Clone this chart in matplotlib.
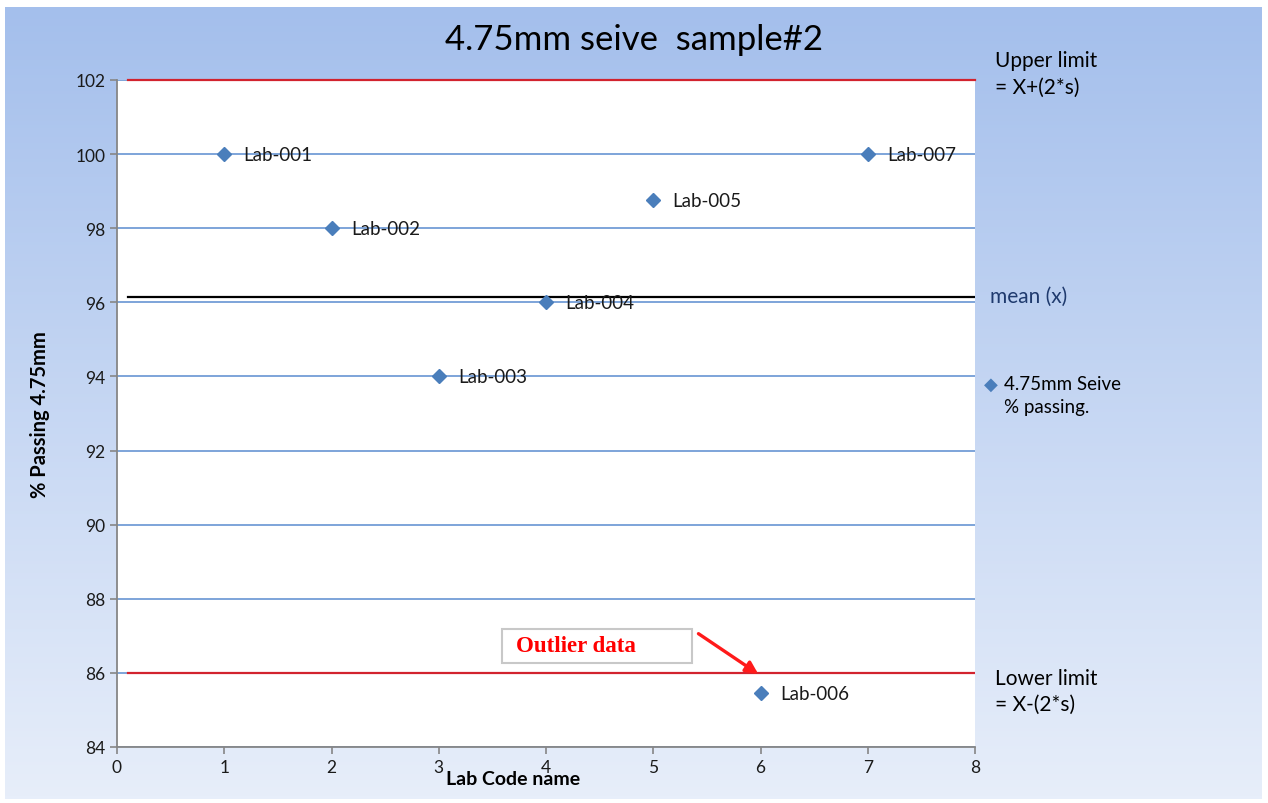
import numpy as np
import matplotlib.pyplot as plt
from matplotlib.patches import Rectangle

# lab results, 4.75mm sieve, sample #2
labs = ["Lab-001", "Lab-002", "Lab-003", "Lab-004", "Lab-005", "Lab-006", "Lab-007"]
lab_x = [1, 2, 3, 4, 5, 6, 7]
passing = [100, 98, 94, 96, 98.75, 85.45, 100]

mean_x = 96.15
upper_limit = 102
lower_limit = 86
limit_span = [0.1, 8]

plt.rcParams['font.family'] = ['Lato', 'DejaVu Sans']

fig = plt.figure(figsize=(12.68, 8.04), dpi=100, facecolor='white')

# gradient backdrop of the chart area
bg = fig.add_axes([5 / 1268, 4 / 804, 1257 / 1268, 792 / 804], zorder=0)
top = np.array([164, 191, 236]) / 255
bot = np.array([231, 238, 250]) / 255
t = np.linspace(0, 1, 256)[:, None]
grad = top[None, :] * (1 - t) + bot[None, :] * t
bg.imshow(grad[:, None, :], aspect='auto', extent=[0, 1, 0, 1])
bg.set_axis_off()

ax = fig.add_axes([117 / 1268, 56 / 804, 858 / 1268, 667 / 804], zorder=1)
ax.set_facecolor('white')

ax.set_xlim(0, 8)
ax.set_ylim(84, 102)
ax.set_xticks(range(0, 9))
ax.set_yticks(range(84, 103, 2))
ax.yaxis.grid(True, color='#5a8cd0', lw=1.1)
ax.set_axisbelow(True)
for s in ['top', 'right']:
    ax.spines[s].set_visible(False)
for s in ['left', 'bottom']:
    ax.spines[s].set_color('#868686')
    ax.spines[s].set_linewidth(1.3)
ax.tick_params(colors='#868686', labelcolor='#1a1a1a', labelsize=12.5, length=5, width=1.2)

ax.plot(limit_span, [upper_limit] * 2, color='#d2232e', lw=1.6, zorder=3, clip_on=False)
ax.plot(limit_span, [lower_limit] * 2, color='#d2232e', lw=1.6, zorder=3)
ax.plot(limit_span, [mean_x] * 2, color='black', lw=1.6, zorder=3)

ax.plot(lab_x, passing, linestyle='none', marker='D', markersize=7,
        color='#4a7ebb', zorder=4, clip_on=False)
for x, y, name in zip(lab_x, passing, labs):
    ax.annotate(name, (x, y), xytext=(14, 0), textcoords='offset points',
                va='center', fontsize=13.5, color='#1a1a1a', zorder=5)

ax.set_ylabel('% Passing 4.75mm', fontsize=14.5, fontweight='bold', labelpad=18)
ax.set_xlabel('Lab Code name', fontsize=14, fontweight='bold')
ax.xaxis.set_label_coords((513 - 117) / 858, -(780 - 748) / 667)
ax.xaxis.label.set_va('center')

fig.text(634 / 1268, 1 - 40 / 804, '4.75mm seive  sample#2', ha='center', va='center',
         fontsize=25)

# legend-style notes on the right
fig.text(995 / 1268, 1 - 61 / 804, 'Upper limit', fontsize=15, va='center')
fig.text(995 / 1268, 1 - 88 / 804, '= X+(2*s)', fontsize=15, va='center')
fig.text(990 / 1268, 1 - 297 / 804, 'mean (x)', fontsize=15, va='center', color='#1f3a6e')
fig.text(984 / 1268, 1 - 385 / 804, '\u25C6', fontsize=13, va='center', color='#4a7ebb')
fig.text(1004 / 1268, 1 - 384 / 804, '4.75mm Seive', fontsize=13.5, va='center')
fig.text(1004 / 1268, 1 - 408 / 804, '% passing.', fontsize=13.5, va='center')
fig.text(995 / 1268, 1 - 679 / 804, 'Lower limit', fontsize=15, va='center')
fig.text(995 / 1268, 1 - 705 / 804, '= X-(2*s)', fontsize=15, va='center')

# outlier callout
ax.annotate('', xy=(6.0, 85.93), xytext=(5.4, 87.1),
            arrowprops=dict(arrowstyle='-|>', color='#ff1a1a', lw=2.4, mutation_scale=18),
            zorder=6)
fig.patches.append(Rectangle((502 / 1268, 1 - 664 / 804), 190 / 1268, 34 / 804,
                             transform=fig.transFigure, fc='white', ec='#c8c8c8',
                             lw=1.5, zorder=7))
fig.text(516 / 1268, 1 - 647 / 804, 'Outlier data', ha='left', va='center',
         fontsize=16.5, fontweight='bold', color='#ff0000', family='Liberation Serif',
         zorder=8)

fig.savefig('out.png', dpi=100, facecolor='white')
